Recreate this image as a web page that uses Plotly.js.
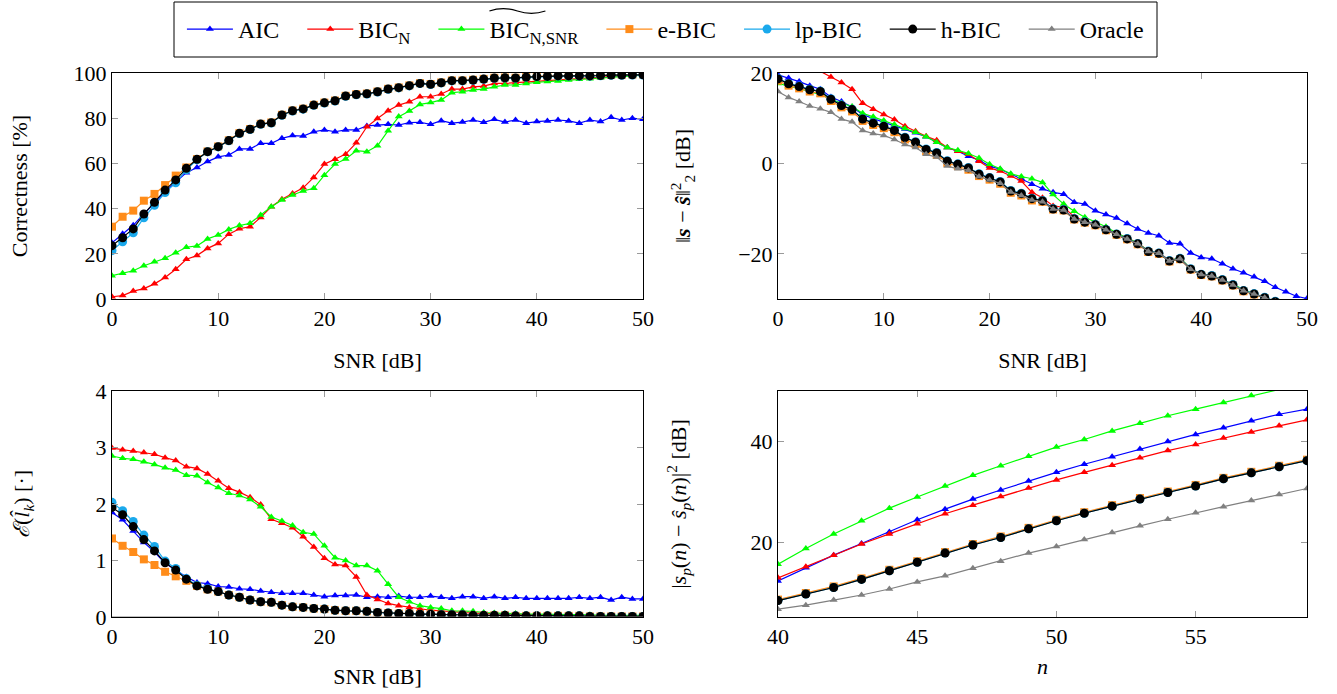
<!DOCTYPE html>
<html>
<head>
<meta charset="utf-8">
<script src="https://cdn.plot.ly/plotly-3.0.1.min.js"></script>
<style>html,body{margin:0;padding:0;background:#fff;} #chart{width:1337px;height:694px;}</style>
</head>
<body>
<div id="chart"></div>
<script>
// ---------- data ----------
const snr = [0,1,2,3,4,5,6,7,8,9,10,11,12,13,14,15,16,17,18,19,20,21,22,23,24,25,26,27,28,29,30,31,32,33,34,35,36,37,38,39,40,41,42,43,44,45,46,47,48,49,50];
const nIdx = [40,41,42,43,44,45,46,47,48,49,50,51,52,53,54,55,56,57,58,59];

const seriesNames = ['AIC', 'BIC<sub>N</sub>', 'BIC<sub>N,SNR</sub>', 'e-BIC', 'lp-BIC', 'h-BIC', 'Oracle'];

// Correctness [%]
const aicCorr = [24.9,28.9,32.6,37.8,42.2,47.5,51.5,55.9,58.2,60.8, 62.9,63.7,66.4,66.4,68.9,68.9,71.1,72.3,72.1,74.0, 74.8,74.0,74.8,74.8,76.6,77.0,77.3,77.0,78.0,78.2, 77.3,78.9,77.8,78.3,79.2,78.2,79.5,78.3,79.2,77.8, 78.5,78.8,79.2,78.8,77.8,79.2,78.5,80.4,79.2,80.0,79.5];
const bicCorr = [1.0,1.5,3.5,4.6,6.7,9.5,13.2,17.6,19.2,22.4, 24.6,28.7,31.1,32.0,36.1,40.8,44.1,46.7,49.2,53.8, 59.7,61.8,64.1,69.1,76.2,79.9,83.3,85.8,87.3,89.5, 89.5,90.7,92.9,92.9,93.9,94.2,95.4,95.4,95.7,96.1, 96.6,96.9,97.2,97.4,97.7,97.9,98.2,98.5,98.7,98.9,99.2];
const bicSnrCorr = [10.3,11.4,12.5,14.7,16.5,18.0,20.5,22.9,23.5,26.6, 28.3,30.8,32.5,33.5,37.2,40.8,43.8,46.0,47.8,49.0, 54.8,59.7,61.9,65.6,65.2,67.8,74.5,80.7,83.2,86.1, 86.9,88.1,91.3,91.7,92.5,92.9,93.9,94.7,94.7,95.4, 95.9,96.2,96.5,96.9,97.2,97.5,97.8,98.1,98.4,98.7,99.1];
const eBicCorr = [32.0,36.4,39.1,43.5,46.5,50.4,54.6,58.2,61.9,65.3, 67.5,70.2,73.4,75.2,77.5,78.1,81.5,83.4,84.2,85.9, 86.9,87.8,89.9,90.6,90.9,91.8,93.0,93.6,94.5,95.5, 95.1,95.8,96.7,96.7,97.0,97.4,97.9,98.0,97.9,98.3, 98.5,98.6,98.8,98.8,98.8,98.8,99.0,99.2,99.2,99.3,99.3];
const lpBicCorr = [21.4,25.3,29.3,35.9,41.5,47.1,51.4,57.2,61.6,65.1, 67.3,70.0,73.2,75.0,77.3,77.9,81.3,83.2,84.0,85.7, 86.7,87.6,89.7,90.4,90.7,91.6,92.8,93.4,94.3,95.3, 94.9,95.6,96.5,96.5,96.8,97.2,97.7,97.8,97.7,98.1, 98.3,98.4,98.6,98.6,98.6,98.6,98.8,99.0,99.0,99.1,99.1];
const hBicCorr = [23.6,27.1,31.0,37.6,42.8,48.2,52.7,57.8,61.8,65.2, 67.4,70.1,73.3,75.1,77.4,78.0,81.4,83.3,84.1,85.8, 86.8,87.7,89.8,90.5,90.8,91.7,92.9,93.5,94.4,95.4, 95.0,95.7,96.6,96.6,96.9,97.3,97.8,97.9,97.8,98.2, 98.4,98.5,98.7,98.7,98.7,98.7,98.9,99.1,99.1,99.2,99.2];

// ||s - s_hat||^2 [dB]
const aicMse = [19.6,18.9,18.1,17.2,16.4,14.7,13.7,12.5,10.8,9.9, 9.1,8.4,7.6,6.8,5.9,4.7,3.5,2.7,1.6,0.7, -0.6,-1.3,-2.4,-3.4,-4.6,-5.6,-6.4,-6.8,-8.6,-9.0, -10.5,-11.3,-12.1,-13.3,-14.5,-15.4,-16.0,-17.6,-17.8,-19.8, -20.8,-21.1,-22.2,-23.3,-24.2,-25.1,-26.1,-27.4,-28.4,-29.4,-29.9];
const bicMse = [25.5,24.2,22.9,21.6,20.4,19.1,17.9,16.4,13.3,12.0, 10.8,9.7,8.2,7.1,6.0,5.1,3.5,2.7,2.0,0.5, -1.0,-1.7,-2.8,-3.9,-6.4,-7.6,-9.4,-9.7,-11.8,-12.7, -13.4,-14.5,-15.5,-16.5,-17.6,-19.3,-19.8,-21.4,-21.0,-23.3, -24.5,-24.8,-25.7,-26.8,-28.0,-28.9,-29.7,-30.6,-31.4,-32.2,-33.0];
const bicSnrMse = [17.7,17.1,16.6,15.9,15.2,14.2,13.3,12.6,11.1,10.3, 9.5,8.6,7.7,6.9,5.9,4.7,3.5,2.9,2.2,1.2, -0.2,-1.2,-2.3,-2.9,-3.4,-4.2,-6.9,-9.0,-10.6,-11.9, -13.0,-14.0,-15.4,-16.5,-17.6,-19.4,-19.9,-21.5,-20.9,-23.3, -24.6,-24.8,-25.7,-26.8,-27.9,-28.9,-29.7,-30.6,-31.4,-32.2,-33.0];
const eBicMse = [18.3,17.2,16.6,15.9,15.5,13.8,12.4,11.5,9.4,8.5, 7.8,6.9,5.3,4.3,2.7,1.9,0.1,-0.6,-1.4,-2.8, -3.6,-4.5,-6.5,-7.1,-8.2,-8.5,-10.2,-10.4,-12.4,-13.1, -13.7,-14.8,-15.8,-16.8,-17.9,-19.6,-20.0,-21.7,-21.2,-23.5, -24.7,-25.0,-25.9,-27.0,-28.3,-29.0,-29.8,-30.7,-31.5,-32.3,-33.1];
const lpBicMse = [18.8,17.7,17.1,16.4,16.0,14.3,12.9,12.0,9.9,9.0, 8.3,7.4,5.8,4.8,3.2,2.4,0.6,-0.1,-0.9,-2.3, -3.1,-4.0,-6.0,-6.6,-7.7,-8.2,-10.0,-10.2,-12.2,-12.9, -13.5,-14.6,-15.6,-16.6,-17.7,-19.4,-19.8,-21.5,-21.0,-23.3, -24.5,-24.8,-25.7,-26.8,-28.1,-28.8,-29.6,-30.5,-31.3,-32.1,-32.9];
const hBicMse = [18.7,17.6,17.0,16.3,15.9,14.2,12.8,11.9,9.8,8.9, 8.2,7.3,5.7,4.7,3.1,2.3,0.5,-0.2,-1.0,-2.4, -3.2,-4.1,-6.1,-6.7,-7.8,-8.3,-10.1,-10.3,-12.3,-13.0, -13.6,-14.7,-15.7,-16.7,-17.8,-19.5,-19.9,-21.6,-21.1,-23.4, -24.6,-24.9,-25.8,-26.9,-28.2,-28.9,-29.7,-30.6,-31.4,-32.2,-33.0];
const oracleMse = [15.9,14.6,13.7,12.7,12.1,11.3,9.8,9.2,7.3,6.6, 6.2,5.3,4.2,3.5,2.0,1.4,-0.6,-1.2,-1.5,-2.9, -3.7,-4.4,-6.3,-7.1,-8.1,-8.5,-10.1,-10.3,-12.3,-13.0, -13.6,-14.7,-15.7,-16.7,-17.8,-19.5,-19.9,-21.6,-21.1,-23.4, -24.6,-24.9,-25.8,-26.9,-28.2,-28.9,-29.7,-30.6,-31.4,-32.2,-33.0];

// E(l_k) [.]
const aicErr = [1.85,1.72,1.52,1.32,1.15,0.95,0.83,0.71,0.61,0.59, 0.54,0.53,0.50,0.49,0.46,0.44,0.42,0.42,0.42,0.39, 0.36,0.38,0.38,0.39,0.35,0.36,0.35,0.37,0.35,0.35, 0.37,0.35,0.33,0.36,0.36,0.33,0.36,0.33,0.35,0.33, 0.33,0.33,0.33,0.33,0.35,0.33,0.35,0.30,0.35,0.32,0.32];
const bicErr = [2.99,2.96,2.94,2.91,2.88,2.82,2.77,2.66,2.63,2.53, 2.41,2.28,2.21,2.12,1.99,1.73,1.66,1.58,1.42,1.24, 1.04,0.93,0.91,0.71,0.39,0.31,0.24,0.20,0.17,0.14, 0.12,0.11,0.09,0.08,0.07,0.06,0.06,0.05,0.05,0.04, 0.04,0.04,0.03,0.03,0.03,0.03,0.03,0.02,0.02,0.02,0.02];
const bicSnrErr = [2.85,2.81,2.79,2.75,2.70,2.64,2.60,2.51,2.50,2.38, 2.29,2.19,2.15,2.08,1.95,1.77,1.70,1.62,1.50,1.47, 1.26,1.05,1.00,0.91,0.91,0.82,0.58,0.35,0.27,0.20, 0.17,0.15,0.11,0.11,0.10,0.08,0.07,0.06,0.06,0.05, 0.05,0.05,0.04,0.04,0.04,0.04,0.03,0.03,0.03,0.03,0.03];
const eBicErr = [1.39,1.26,1.15,1.02,0.92,0.80,0.72,0.64,0.55,0.49, 0.45,0.39,0.35,0.30,0.27,0.26,0.21,0.18,0.17,0.15, 0.14,0.12,0.11,0.11,0.10,0.08,0.07,0.06,0.06,0.05, 0.05,0.04,0.04,0.04,0.03,0.03,0.03,0.03,0.02,0.02, 0.02,0.02,0.02,0.02,0.02,0.01,0.01,0.01,0.01,0.01,0.01];
const lpBicErr = [2.03,1.88,1.69,1.45,1.25,0.99,0.86,0.68,0.56,0.50, 0.45,0.39,0.35,0.30,0.27,0.26,0.21,0.18,0.17,0.15, 0.14,0.12,0.11,0.11,0.10,0.08,0.07,0.06,0.06,0.05, 0.05,0.04,0.04,0.04,0.03,0.03,0.03,0.03,0.02,0.02, 0.02,0.02,0.02,0.02,0.02,0.01,0.01,0.01,0.01,0.01,0.01];
const hBicErr = [1.94,1.81,1.60,1.37,1.17,0.96,0.83,0.67,0.55,0.49, 0.45,0.39,0.35,0.30,0.27,0.26,0.21,0.18,0.17,0.15, 0.14,0.12,0.11,0.11,0.10,0.08,0.07,0.06,0.06,0.05, 0.05,0.04,0.04,0.04,0.03,0.03,0.03,0.03,0.02,0.02, 0.02,0.02,0.02,0.02,0.02,0.01,0.01,0.01,0.01,0.01,0.01];
const oracleErr = [0,0,0,0,0,0,0,0,0,0, 0,0,0,0,0,0,0,0,0,0, 0,0,0,0,0,0,0,0,0,0, 0,0,0,0,0,0,0,0,0,0, 0,0,0,0,0,0,0,0,0,0,0];

// |s_p(n) - s_hat_p(n)|^2 [dB]
const aicN = [12.3,14.9,17.4,19.7,22.0,24.4,26.5,28.5,30.3,32.1,33.8,35.4,36.9,38.4,39.9,41.3,42.6,44.0,45.3,46.3];
const bicN = [12.9,15.1,17.4,19.6,21.6,23.6,25.6,27.3,29.0,30.7,32.3,33.8,35.2,36.7,38.1,39.3,40.6,41.8,43.0,44.2];
const bicSnrN = [15.6,18.7,21.6,24.2,26.7,28.9,31.1,33.2,35.1,37.0,38.8,40.3,42.0,43.5,45.0,46.3,47.6,49.0,50.3,51.5];
const eBicN = [8.6,9.9,11.2,12.8,14.5,16.2,18.0,19.6,21.1,22.8,24.4,25.9,27.3,28.7,30.0,31.3,32.7,33.9,35.1,36.3];
const lpBicN = [8.4,9.7,11.0,12.6,14.3,16.0,17.8,19.4,20.9,22.6,24.2,25.7,27.1,28.5,29.8,31.1,32.5,33.7,34.9,36.1];
const hBicN = [8.4,9.7,11.0,12.6,14.3,16.0,17.8,19.4,20.9,22.6,24.2,25.7,27.1,28.5,29.8,31.1,32.5,33.7,34.9,36.1];
const oracleN = [6.7,7.5,8.5,9.5,10.7,12.1,13.3,14.8,16.2,17.8,19.1,20.5,21.9,23.2,24.5,25.8,27.0,28.2,29.4,30.6];

// ---------- styles ----------
const styles = [
  {color:'#0000ff', symbol:'triangle-up', size:7},
  {color:'#ff0000', symbol:'triangle-up', size:7},
  {color:'#00ff00', symbol:'triangle-up', size:7},
  {color:'#ff8c1a', symbol:'square', size:8},
  {color:'#1aa9ec', symbol:'circle', size:9},
  {color:'#000000', symbol:'circle', size:9},
  {color:'#808080', symbol:'triangle-up', size:7}
];
const PAD = '\u00a0\u00a0\u00a0';

const traces = [];
function addPanel(x, ys, xa, ya, legend, lineOnly) {
  ys.forEach((y, i) => {
    if (!y) return;
    const s = styles[i];
    traces.push({
      type:'scatter', mode:(lineOnly && lineOnly[i]) ? 'lines' : 'lines+markers', x:x, y:y,
      xaxis:xa, yaxis:ya, name:seriesNames[i] + (i < 6 ? PAD : ''), showlegend:legend,
      line:{color:s.color, width:1.2},
      marker:{symbol:s.symbol, size:s.size, color:s.color, line:{width:0}},
      cliponaxis:true
    });
  });
}
addPanel(snr, [aicMse,bicMse,bicSnrMse,eBicMse,lpBicMse,hBicMse,oracleMse], 'x2', 'y2', true);
addPanel(snr, [aicCorr,bicCorr,bicSnrCorr,eBicCorr,lpBicCorr,hBicCorr,null], 'x', 'y', false);
addPanel(snr, [aicErr,bicErr,bicSnrErr,eBicErr,lpBicErr,hBicErr,oracleErr], 'x3', 'y3', false, [0,0,0,0,0,0,1]);
addPanel(nIdx, [aicN,bicN,bicSnrN,eBicN,lpBicN,hBicN,oracleN], 'x4', 'y4', false);

const FONT = 'Liberation Serif';
const W = 1337, H = 694;
function axBase(extra) {
  return Object.assign({
    showgrid:false, zeroline:false, showline:true, linecolor:'#000', linewidth:1,
    mirror:'ticks', ticks:'inside', ticklen:6, tickcolor:'#9a9a9a', tickwidth:1,
    tickfont:{family:FONT, size:22, color:'#000'}, automargin:false, fixedrange:true
  }, extra);
}
const xdL = [112/W, 643/W], xdR = [778/W, 1307/W];
const ydT = [1-299/H, 1-73/H], ydB = [1-617/H, 1-391/H];
const tFont = {family:FONT, size:22, color:'#000'};
const boxShape = {type:'rect', xref:'paper', yref:'paper', x0:174/W, x1:1157/W, y0:1-57/H, y1:1-2/H,
     line:{color:'#000', width:1}, fillcolor:'rgba(0,0,0,0)', layer:'above'};

const layout = {
  width:W, height:H, margin:{l:0,r:0,t:0,b:0},
  paper_bgcolor:'#fff', plot_bgcolor:'#fff',
  font:{family:FONT, color:'#000'},
  showlegend:true,
  legend:{orientation:'h', x:0.4977, xanchor:'center', y:1-29.5/H, yanchor:'middle',
          bgcolor:'rgba(0,0,0,0)', borderwidth:0, font:{family:FONT, size:24, color:'#000'},
          itemwidth:46, tracegroupgap:0},
  shapes:[boxShape],
  xaxis: axBase({domain:xdL, range:[0,50], tickvals:[0,10,20,30,40,50], anchor:'y',
           title:{text:'SNR [dB]', font:tFont, standoff:22}}),
  yaxis: axBase({domain:ydT, range:[0,100], tickvals:[0,20,40,60,80,100], anchor:'x',
           title:{text:'Correctness [%]', font:tFont, standoff:39}}),
  xaxis2: axBase({domain:xdR, range:[0,50], tickvals:[0,10,20,30,40,50], anchor:'y2',
           title:{text:'SNR [dB]', font:tFont, standoff:22}}),
  yaxis2: axBase({domain:ydT, range:[-30,20], tickvals:[-20,0,20], anchor:'x2',
           title:{text:'‖<b><i>s</i></b> − <b><i>ŝ</i></b>‖<sup>2</sup><sub>2</sub> [dB]', font:tFont, standoff:41}}),
  xaxis3: axBase({domain:xdL, range:[0,50], tickvals:[0,10,20,30,40,50], anchor:'y3',
           title:{text:'SNR [dB]', font:tFont, standoff:20}}),
  yaxis3: axBase({domain:ydB, range:[0,4], tickvals:[0,1,2,3,4], anchor:'x3',
           title:{text:'<i>ℰ</i>(<i>l̂</i><sub><i>k</i></sub>) [·]', font:tFont, standoff:59}}),
  xaxis4: axBase({domain:xdR, range:[40,59], tickvals:[40,45,50,55], anchor:'y4',
           title:{text:'<i>n</i>', font:tFont, standoff:10}}),
  yaxis4: axBase({domain:ydB, range:[5.15,49.9], tickvals:[20,40], anchor:'x4',
           title:{text:'|<i>s</i><sub><i>p</i></sub>(<i>n</i>) − <i>ŝ</i><sub><i>p</i></sub>(<i>n</i>)|<sup>2</sup> [dB]', font:tFont, standoff:57}})
};

Plotly.newPlot('chart', traces, layout, {displayModeBar:false, staticPlot:true}).then(gd => {
  // wide tilde over "BIC" of the third legend entry
  const texts = gd.querySelectorAll('.legend .traces .legendtext');
  if (texts.length < 3) return;
  const r = texts[2].getBoundingClientRect();
  const c = gd.getBoundingClientRect();
  const a = r.left - c.left, w = 56, yc = 11, h = 3.2;
  const px = v => (v / W).toFixed(5), py = v => (1 - v / H).toFixed(5);
  const path = 'M' + px(a) + ',' + py(yc) +
    ' C' + px(a + w/6) + ',' + py(yc - h) + ' ' + px(a + w/3) + ',' + py(yc - h) + ' ' + px(a + w/2) + ',' + py(yc) +
    ' C' + px(a + 2*w/3) + ',' + py(yc + h) + ' ' + px(a + 5*w/6) + ',' + py(yc + h) + ' ' + px(a + w) + ',' + py(yc);
  Plotly.relayout(gd, {shapes:[boxShape, {type:'path', xref:'paper', yref:'paper', path:path,
    line:{color:'#000', width:1.3}, fillcolor:'rgba(0,0,0,0)', layer:'above'}]});
});
</script>
</body>
</html>
